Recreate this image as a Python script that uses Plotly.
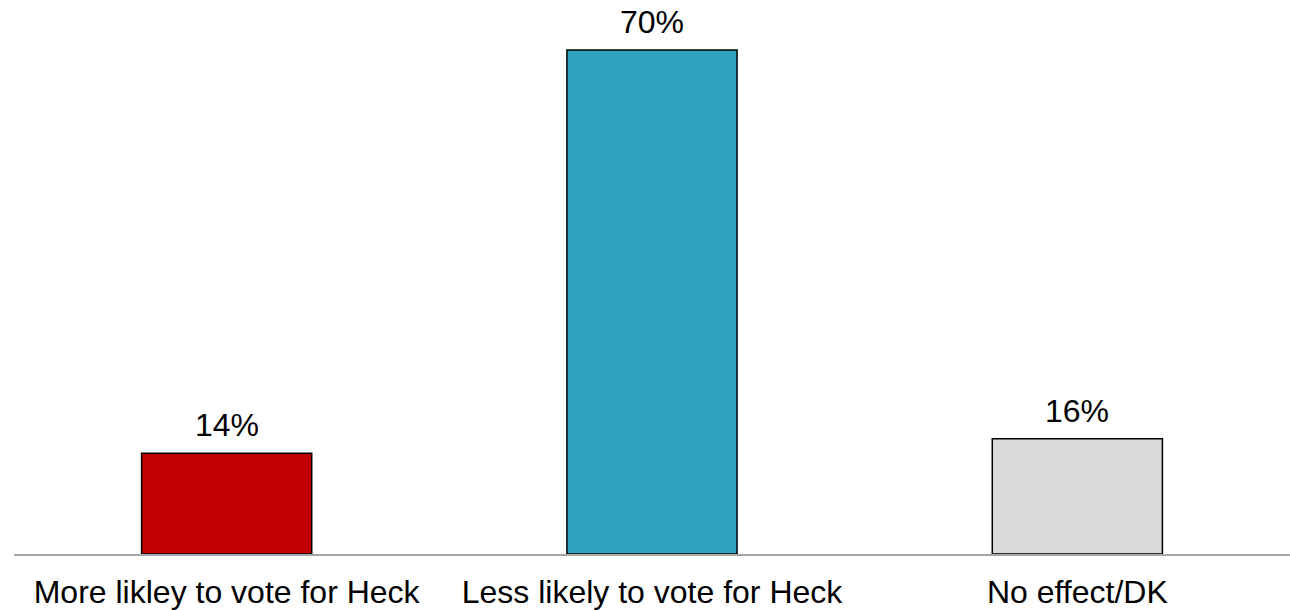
import plotly.graph_objects as go

categories = ["More likley to vote for Heck", "Less likely to vote for Heck", "No effect/DK"]
values = [14, 70, 16]
labels = ["14%", "70%", "16%"]
colors = ["#C00000", "#2EA3BF", "#D9D9D9"]

FONT = "Liberation Sans, Arial"

fig = go.Figure()
fig.add_trace(go.Bar(
    x=categories, y=values,
    marker=dict(color=colors, line=dict(color="#000000", width=1.5)),
    width=0.4,
    cliponaxis=False,
    hoverinfo="skip",
))
for c, v, t in zip(categories, values, labels):
    fig.add_annotation(x=c, y=v, text=t, showarrow=False, yanchor="bottom",
                       yshift=9, borderpad=0,
                       font=dict(family=FONT, size=32, color="#000000"))

fig.update_layout(
    width=1290, height=610,
    margin=dict(l=14, r=0, t=0, b=56),
    paper_bgcolor="white", plot_bgcolor="white",
    showlegend=False,
    font=dict(family=FONT, color="#000000"),
    xaxis=dict(showline=True, linecolor="#A6A6A6", linewidth=1.5, ticks="",
               tickfont=dict(size=32, color="#000000"), showgrid=False,
               ticklabelstandoff=9),
    yaxis=dict(range=[0, 76.94], visible=False, showgrid=False),
)
fig.write_html("out.html",
               config={"displayModeBar": False},
               post_script="document.body.style.margin='0';document.body.style.overflow='hidden';")
